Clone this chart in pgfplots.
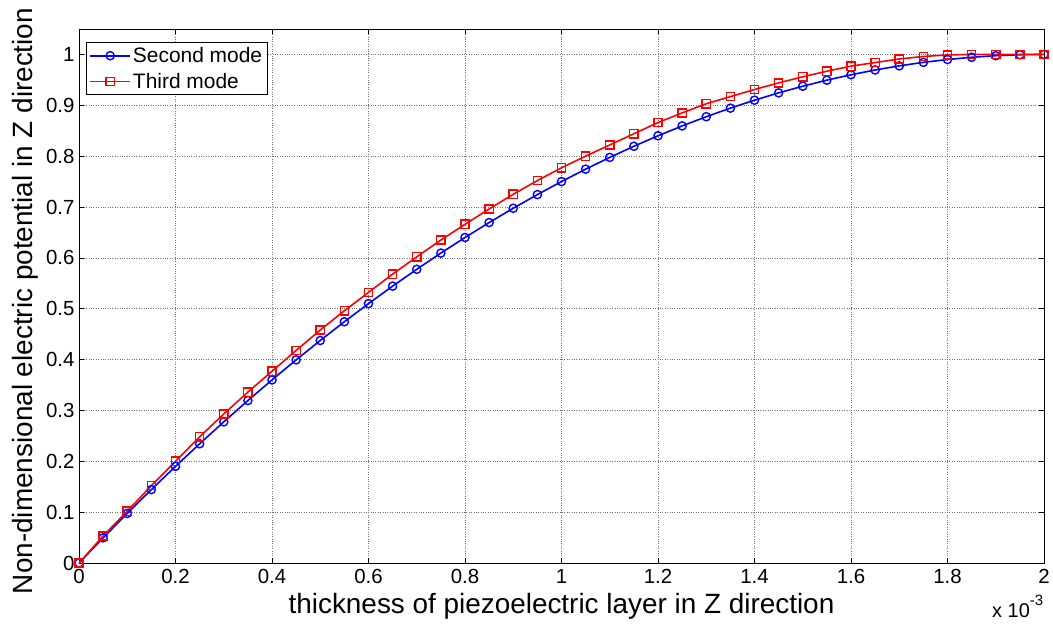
\documentclass[border=0pt]{standalone}
\usepackage{fontspec}
\setmainfont{Liberation Sans}
\usepackage{pgfplots}
\pgfplotsset{compat=1.18}
\begin{document}
\begin{tikzpicture}
\begin{axis}[
  scale only axis, width=965bp, height=534bp,
  xmin=0, xmax=2, ymin=0, ymax=1.05,
  xtick={0,0.2,0.4,0.6,0.8,1,1.2,1.4,1.6,1.8,2},
  ytick={0,0.1,0.2,0.3,0.4,0.5,0.6,0.7,0.8,0.9,1},
  xticklabels={0,0.2,0.4,0.6,0.8,1,1.2,1.4,1.6,1.8,2},
  yticklabels={0,0.1,0.2,0.3,0.4,0.5,0.6,0.7,0.8,0.9,1},
  tick align=inside, major tick length=5bp,
  tick style={black, line width=0.6bp},
  axis line style={black, line width=0.9bp},
  grid=major, grid style={dotted, black!55, line width=0.7bp},
  tick label style={font=\fontsize{20.5}{23}\selectfont},
  xticklabel style={yshift=-3bp},
  yticklabel style={xshift=-1bp},
  xlabel={thickness of piezoelectric layer in Z direction},
  ylabel={Non-dimensional electric potential in Z direction},
  label style={font=\fontsize{28}{31}\selectfont},
  xlabel style={at={(axis description cs:0.5,0)}, anchor=base, yshift=-50bp},
  ylabel style={at={(axis description cs:0,0.5)}, anchor=base, yshift=46bp, xshift=-5bp},
  legend style={at={(0,1)}, anchor=north west, xshift=7bp, yshift=-13bp,
    font=\fontsize{21}{24}\selectfont, draw=black, line width=0.8bp,
    inner xsep=3bp, inner ysep=3bp, row sep=5bp, cells={anchor=west}},
  legend cell align=left,
  legend image code/.code={\draw[mark repeat=2, mark phase=2] plot coordinates {(0bp,0bp) (20bp,0bp) (40bp,0bp)};},
]
\addplot[color=blue, line width=1.6bp, mark=o, mark size=4.1bp, mark options={line width=1.4bp}] coordinates {
(0,0) (0.05,0.0494) (0.1,0.0975) (0.15,0.1444) (0.2,0.19) (0.25,0.2344)
(0.3,0.2775) (0.35,0.3194) (0.4,0.36) (0.45,0.3994) (0.5,0.4375)
(0.55,0.4744) (0.6,0.51) (0.65,0.5444) (0.7,0.5775) (0.75,0.6094)
(0.8,0.64) (0.85,0.6694) (0.9,0.6975) (0.95,0.7244) (1.0,0.75)
(1.05,0.7744) (1.1,0.7975) (1.15,0.8194) (1.2,0.84) (1.25,0.8594)
(1.3,0.8775) (1.35,0.8944) (1.4,0.91) (1.45,0.9244) (1.5,0.9375)
(1.55,0.9494) (1.6,0.96) (1.65,0.9694) (1.7,0.9775) (1.75,0.9844)
(1.8,0.99) (1.85,0.9944) (1.9,0.9975) (1.95,0.9994) (2.0,1.0)
};
\addlegendentry{Second mode}
\addplot[color=red, line width=1.6bp, mark=square, mark size=4.1bp, mark options={line width=1.4bp}] coordinates {
(0,0) (0.05,0.053) (0.1,0.102) (0.15,0.152) (0.2,0.200) (0.25,0.248)
(0.3,0.293) (0.35,0.336) (0.4,0.377) (0.45,0.418) (0.5,0.458)
(0.55,0.496) (0.6,0.532) (0.65,0.568) (0.7,0.602) (0.75,0.635)
(0.8,0.666) (0.85,0.696) (0.9,0.725) (0.95,0.752) (1.0,0.777)
(1.05,0.800) (1.1,0.822) (1.15,0.844) (1.2,0.866) (1.25,0.885)
(1.3,0.903) (1.35,0.917) (1.4,0.931) (1.45,0.944) (1.5,0.956)
(1.55,0.967) (1.6,0.977) (1.65,0.984) (1.7,0.991) (1.75,0.996)
(1.8,0.999) (1.85,1.0) (1.9,1.0) (1.95,1.0) (2.0,1.0)
};
\addlegendentry{Third mode}
\end{axis}
\node[anchor=base west, inner sep=0pt, font=\fontsize{20}{22}\selectfont]
  at ([xshift=-52bp, yshift=-54bp]current axis.south east) {x 10\raisebox{12bp}{\fontsize{15}{15}\selectfont -3}};
\path ([xshift=-79bp, yshift=-63bp]current axis.south west) rectangle ++(1053bp,626bp);
\end{tikzpicture}
\end{document}
